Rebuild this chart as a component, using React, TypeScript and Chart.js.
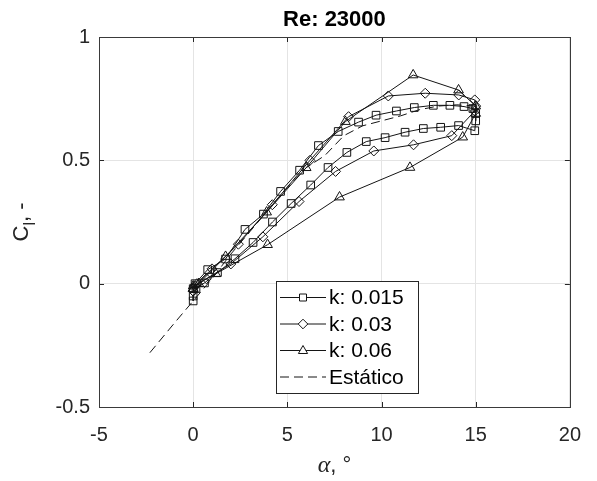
import React, { useEffect, useRef } from 'react';
import { Chart, registerables } from 'chart.js';
Chart.register(...registerables);

// k = 0.015 (squares)
const k015Alpha = [0, 0.1, 0.77, 1.72, 2.75, 3.73, 4.64, 5.65, 6.65, 7.7, 8.78, 9.71, 10.79, 11.74, 12.75, 13.63, 14.38, 14.85, 15, 15, 14.95, 14.09, 13.14, 12.22, 11.25, 10.19, 9.19, 8.16, 7.16, 6.24, 5.2, 4.21, 3.18, 2.22, 1.29, 0.6, 0.15, 0, 0];
const k015Cl = [-0.02, 0.0, 0.057, 0.1, 0.22, 0.282, 0.374, 0.46, 0.56, 0.617, 0.655, 0.683, 0.7, 0.714, 0.723, 0.723, 0.718, 0.71, 0.69, 0.66, 0.62, 0.641, 0.634, 0.629, 0.614, 0.592, 0.576, 0.532, 0.471, 0.4, 0.325, 0.25, 0.167, 0.101, 0.045, 0.003, -0.02, -0.05, -0.07];

// k = 0.03 (diamonds)
const k03Alpha = [0, 0.2, 1.0, 2.4, 4.2, 6.2, 8.25, 10.36, 12.32, 14.1, 14.95, 15, 14.95, 13.73, 11.7, 9.59, 7.56, 5.62, 3.7, 2.0, 0.7, 0.1, 0];
const k03Cl = [-0.03, 0.0, 0.06, 0.16, 0.32, 0.5, 0.677, 0.761, 0.772, 0.765, 0.745, 0.72, 0.7, 0.6, 0.563, 0.538, 0.455, 0.333, 0.19, 0.08, 0.02, -0.01, -0.03];

// k = 0.06 (triangles)
const k06Alpha = [0, 0.3, 1.72, 3.9, 6.0, 8.08, 11.68, 14.09, 15, 15, 14.31, 11.51, 7.77, 3.95, 1.2, 0];
const k06Cl = [-0.02, 0.0, 0.11, 0.29, 0.47, 0.657, 0.846, 0.785, 0.72, 0.69, 0.594, 0.471, 0.351, 0.158, 0.04, -0.01];

// Static (dashed)
const staticAlpha = [-2.3, -1, 0, 1, 2, 3, 4, 5, 6, 7, 8, 9, 10, 11, 12, 13, 14, 15];
const staticCl = [-0.28, -0.16, -0.07, 0.02, 0.12, 0.21, 0.3, 0.39, 0.47, 0.52, 0.6, 0.64, 0.66, 0.68, 0.705, 0.72, 0.725, 0.72];

const legendLabels = ['k: 0.015', 'k: 0.03', 'k: 0.06', 'Estático'];
const titleText = 'Re: 23000';
const xTicks = [-5, 0, 5, 10, 15, 20];
const yTicks = [-0.5, 0, 0.5, 1];

const SANS = '"Liberation Sans", Arial, sans-serif';
const SERIF = '"Liberation Serif", "Times New Roman", serif';
const INK = '#262626';
const LINE = '#141414';

const pts = (xs: number[], ys: number[]) => xs.map((x, i) => ({ x, y: ys[i] }));

function marker(ctx: CanvasRenderingContext2D, kind: string, x: number, y: number) {
  ctx.beginPath();
  if (kind === 'rect') {
    ctx.rect(x - 3.5, y - 3.5, 7, 7);
  } else if (kind === 'rectRot') {
    ctx.moveTo(x - 4.8, y); ctx.lineTo(x, y - 4.8); ctx.lineTo(x + 4.8, y); ctx.lineTo(x, y + 4.8); ctx.closePath();
  } else {
    ctx.moveTo(x, y - 5); ctx.lineTo(x + 4.6, y + 3); ctx.lineTo(x - 4.6, y + 3); ctx.closePath();
  }
  ctx.fillStyle = '#fff';
  ctx.fill();
  ctx.stroke();
}

const decor = {
  id: 'decor',
  afterDraw(chart: any) {
    const ctx = chart.ctx as CanvasRenderingContext2D;
    const { left, right, top, bottom } = chart.chartArea;
    const xs = chart.scales.x;
    const ys = chart.scales.y;
    ctx.save();
    // inner ticks
    ctx.strokeStyle = INK;
    ctx.lineWidth = 1;
    ctx.beginPath();
    for (const v of xTicks) {
      const px = Math.round(xs.getPixelForValue(v)) + 0.5;
      ctx.moveTo(px, bottom); ctx.lineTo(px, bottom - 5);
      ctx.moveTo(px, top); ctx.lineTo(px, top + 5);
    }
    for (const v of yTicks) {
      const py = Math.round(ys.getPixelForValue(v)) + 0.5;
      ctx.moveTo(left, py); ctx.lineTo(left + 5, py);
      ctx.moveTo(right, py); ctx.lineTo(right - 5, py);
    }
    ctx.stroke();
    // box
    ctx.strokeStyle = '#3a3a3a';
    ctx.strokeRect(Math.round(left) + 0.5, Math.round(top) + 0.5, Math.round(right - left), Math.round(bottom - top));

    // title
    ctx.fillStyle = '#000';
    ctx.font = `bold 22px ${SANS}`;
    ctx.textAlign = 'center';
    ctx.textBaseline = 'alphabetic';
    ctx.fillText(titleText, (left + right) / 2, 26);

    // x label: α, °
    const cx = (left + right) / 2;
    ctx.fillStyle = INK;
    ctx.font = `italic 24px ${SERIF}`;
    const aW = ctx.measureText('α').width;
    ctx.font = `22px ${SANS}`;
    const restW = ctx.measureText(', °').width;
    const startX = cx - (aW + restW) / 2;
    ctx.textAlign = 'left';
    ctx.font = `italic 24px ${SERIF}`;
    ctx.fillText('α', startX, 472);
    ctx.font = `22px ${SANS}`;
    ctx.fillText(', °', startX + aW, 472);

    // y label: C_l, -
    ctx.save();
    ctx.translate(28, (top + bottom) / 2);
    ctx.rotate(-Math.PI / 2);
    ctx.font = `22px ${SANS}`;
    const cW = ctx.measureText('C').width;
    const tailW = ctx.measureText(', -').width;
    ctx.font = `16px ${SANS}`;
    const lW = ctx.measureText('l').width;
    const total = cW + lW + tailW;
    let x0 = -total / 2;
    ctx.textAlign = 'left';
    ctx.font = `22px ${SANS}`;
    ctx.fillText('C', x0, 0);
    x0 += cW;
    ctx.font = `16px ${SANS}`;
    ctx.fillText('l', x0, 7);
    x0 += lW;
    ctx.font = `22px ${SANS}`;
    ctx.fillText(', -', x0, 0);
    ctx.restore();

    // legend
    const bx = 276.5, by = 281.5, bw = 142, bh = 112;
    ctx.fillStyle = '#fff';
    ctx.fillRect(bx, by, bw, bh);
    ctx.strokeStyle = INK;
    ctx.lineWidth = 1;
    ctx.strokeRect(bx, by, bw, bh);
    const rows = [297.5, 324, 350.5, 377];
    const styles = ['rect', 'rectRot', 'triangle', ''];
    for (let i = 0; i < 4; i++) {
      const yy = rows[i];
      ctx.strokeStyle = LINE;
      ctx.lineWidth = 1;
      ctx.beginPath();
      if (i === 3) ctx.setLineDash([9, 5]); else ctx.setLineDash([]);
      ctx.moveTo(280, yy); ctx.lineTo(326, yy);
      ctx.stroke();
      ctx.setLineDash([]);
      if (styles[i]) marker(ctx, styles[i], 303, yy);
      ctx.fillStyle = '#000';
      ctx.font = `21px ${SANS}`;
      ctx.textAlign = 'left';
      ctx.textBaseline = 'middle';
      ctx.fillText(legendLabels[i], 329, yy + 1);
      ctx.textBaseline = 'alphabetic';
    }
    ctx.restore();
  },
};

export default function App() {
  const ref = useRef<HTMLCanvasElement>(null);
  useEffect(() => {
    const canvas = ref.current!;
    const mk = (data: any[], style: any, r: number, dashed = false) => ({
      data,
      showLine: true,
      borderColor: LINE,
      borderWidth: 1,
      borderDash: dashed ? [9, 5] : [],
      backgroundColor: 'rgba(255,255,255,0)',
      pointStyle: style,
      pointRadius: r,
      pointBorderColor: LINE,
      pointBorderWidth: 1,
      pointBackgroundColor: 'rgba(255,255,255,0)',
      pointHoverRadius: r,
      fill: false,
      tension: 0,
    });
    const chart = new Chart(canvas, {
      type: 'scatter',
      data: {
        datasets: [
          { ...mk(pts(k015Alpha, k015Cl), 'rect', 5.4), label: legendLabels[0] },
          { ...mk(pts(k03Alpha, k03Cl), 'rectRot', 5), label: legendLabels[1] },
          { ...mk(pts(k06Alpha, k06Cl), 'triangle', 5.6), label: legendLabels[2] },
          { ...mk(pts(staticAlpha, staticCl), false, 0, true), label: legendLabels[3] },
        ],
      },
      options: {
        responsive: false,
        animation: false,
        devicePixelRatio: 1,
        layout: { padding: { left: 0, right: 14, top: 37, bottom: 0 } },
        plugins: { legend: { display: false }, tooltip: { enabled: false }, title: { display: false } },
        scales: {
          x: {
            type: 'linear',
            min: -5,
            max: 20,
            ticks: { stepSize: 5, color: INK, font: { family: SANS, size: 20 }, padding: 16 },
            grid: { color: '#e4e4e4', drawTicks: false },
            border: { display: false },
            afterFit: (s: any) => { s.height = 74; },
          },
          y: {
            type: 'linear',
            min: -0.5,
            max: 1,
            ticks: {
              stepSize: 0.5,
              color: INK,
              font: { family: SANS, size: 20 },
              padding: 9,
              callback: (v: any) => String(Number(v)),
            },
            grid: { color: '#e4e4e4', drawTicks: false },
            border: { display: false },
            afterFit: (s: any) => { s.width = 99; },
          },
        },
      },
      plugins: [decor],
    } as any);
    return () => chart.destroy();
  }, []);
  return (
    <div style={{ position: 'fixed', left: 0, top: 0, width: 597, height: 481, background: '#fff' }}>
      <canvas ref={ref} width={597} height={481} style={{ display: 'block' }} />
    </div>
  );
}
